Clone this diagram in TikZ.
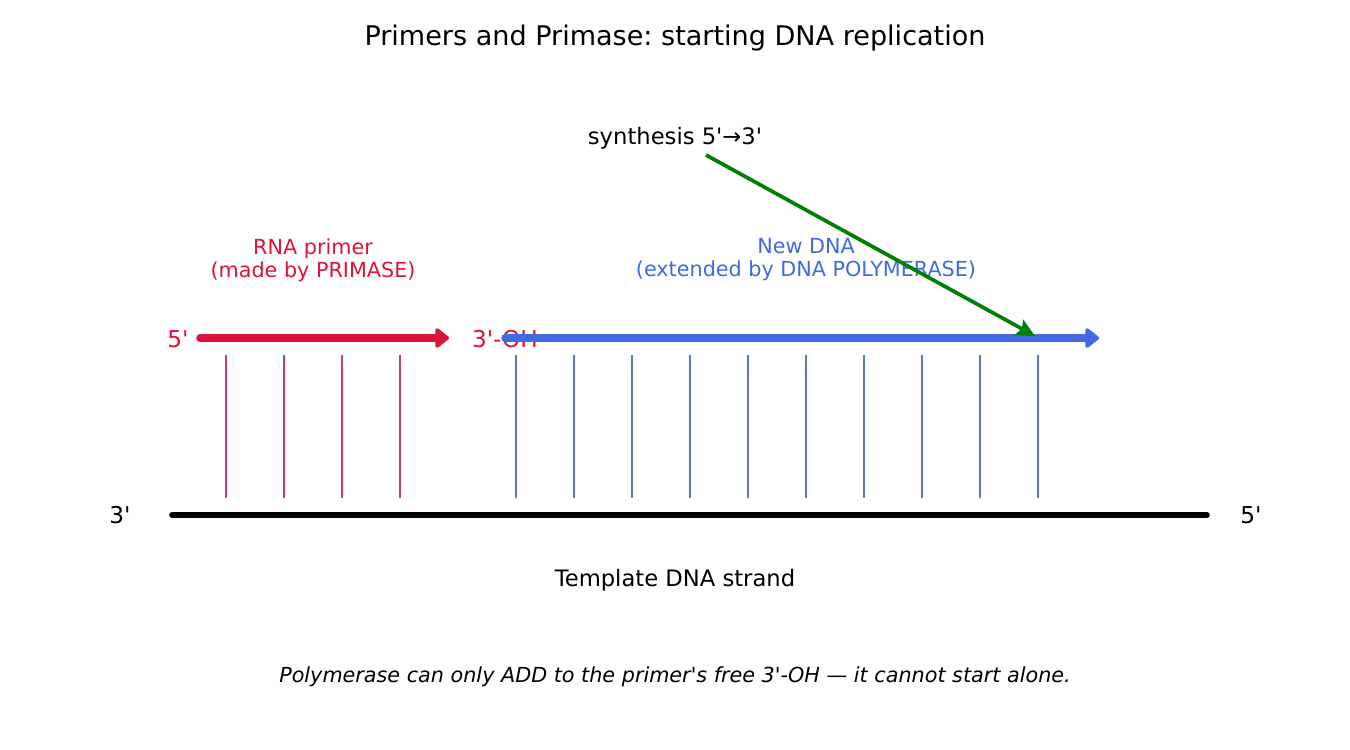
\documentclass[tikz,border=0pt]{standalone}
\usepackage{fontspec}
\setmainfont{DejaVu Sans}
\usetikzlibrary{arrows.meta}

\definecolor{primerred}{RGB}{220,20,60}
\definecolor{newblue}{RGB}{65,105,225}
\definecolor{synthgreen}{RGB}{0,128,0}
\newcommand{\q}{\textquotesingle}
\frenchspacing

\tikzset{
 lbl/.style={inner sep=0, align=center, font=\fontsize{11.8}{13.2}\selectfont},
 endlbl/.style={inner sep=0, font=\fontsize{13.2}{15}\selectfont},
 rung/.style={line width=0.85pt},
}

\begin{document}
\begin{tikzpicture}[x=0.02cm, y=-0.02cm]
\useasboundingbox (0,0) rectangle (1350,750);
% title
\node[inner sep=0, font=\fontsize{15.4}{18}\selectfont] (title) at (675,38) {Primers and Primase: starting DNA replication};
% template strand
\coordinate (t0) at (172,515);
\coordinate (t1) at (1207,515);
\draw[black, line width=3.2pt, line cap=round] (t0) -- (t1);
\node[endlbl] (t3) at (120,515) {3\q};
\node[endlbl] (t5) at (1251,515) {5\q};
\node[lbl, font=\fontsize{12.9}{15}\selectfont] (tlab) at (675,580) {Template DNA strand};
% base pairs
\foreach \x in {226,284,342,400} {
 \draw[rung, primerred!80!black!80!white] (\x,355) -- (\x,498);
}
\foreach \x in {516,574,...,1038} {
 \draw[rung, newblue!80!black!80!white] (\x,355) -- (\x,498);
}
% primer and new strand
\node[endlbl, text=primerred] (p5) at (178,339) {5\q};
\node[endlbl, text=primerred] (p3) at (505,339) {3\q-OH};
\coordinate (r0) at (200,338);
\coordinate (r1) at (449,338);
\coordinate (b0) at (505,338);
\coordinate (b1) at (1099,338);
\draw[primerred, line width=4.3pt, line cap=round, -{Triangle[round, length=0.3cm, width=0.45cm]}] (r0) -- (r1);
\draw[newblue, line width=4.3pt, line cap=round, -{Triangle[round, length=0.3cm, width=0.45cm]}] (b0) -- (b1);
\node[lbl, text=primerred] (rlab) at (313,260) {RNA primer\\(made by PRIMASE)};
\node[lbl, text=newblue] (blab) at (806,260) {New DNA\\(extended by DNA POLYMERASE)};
% direction
\node[lbl, font=\fontsize{12.9}{15}\selectfont] (synth) at (675,138) {synthesis 5\q→3\q};
\coordinate (g0) at (706,155);
\coordinate (g1) at (1035,336);
\draw[synthgreen, line width=2.1pt, -{Stealth[length=0.36cm, width=0.34cm, inset=0.06cm]}] (g0) -- (g1);
% note
\node[lbl, font=\fontsize{11.8}{13.2}\itshape] (note) at (675,677) {Polymerase can only ADD to the primer\q s free 3\q-OH — it cannot start alone.};
\end{tikzpicture}
\end{document}
